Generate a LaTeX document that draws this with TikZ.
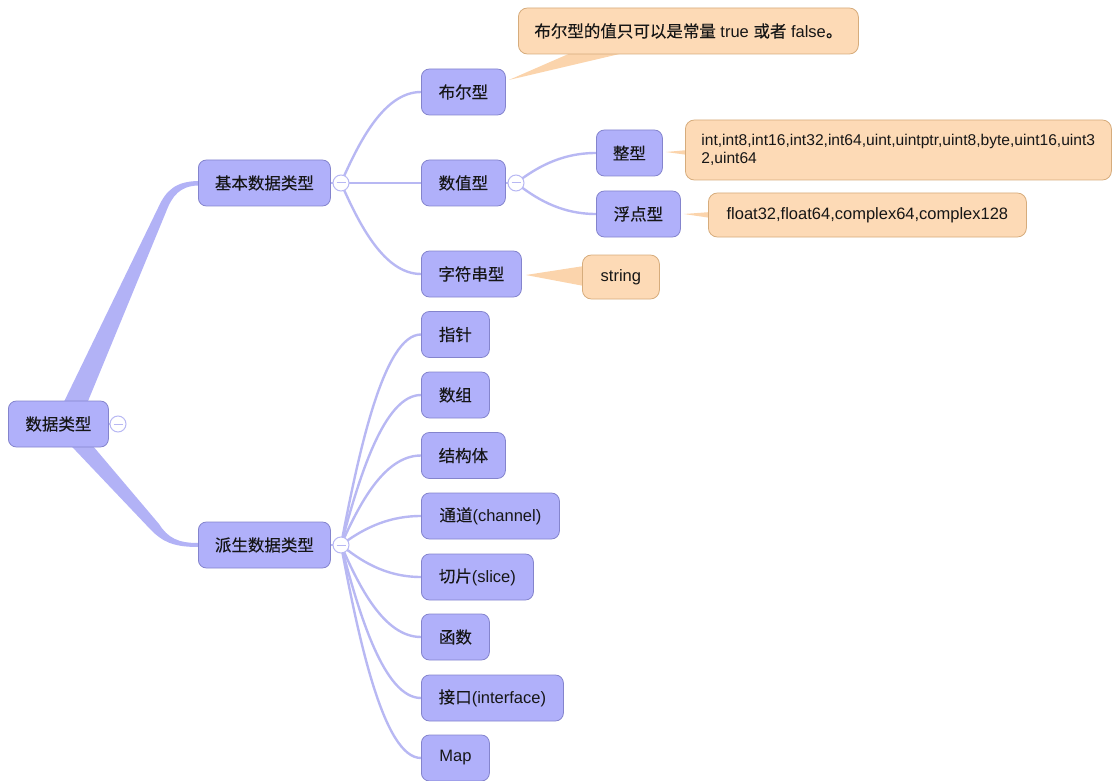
\documentclass[tikz,border=0pt]{standalone}
\usepackage{fontspec}
\setmainfont{Liberation Sans}
\newfontfamily\cjkf{Noto Sans CJK SC}[FakeBold=0.15]
\newcommand{\zhx}[1]{{\cjkf #1}}
\usetikzlibrary{calc,backgrounds}
\definecolor{nodefill}{RGB}{176,176,250}
\definecolor{nodedraw}{RGB}{132,132,205}
\definecolor{linec}{RGB}{184,184,243}
\definecolor{bandc}{RGB}{178,178,246}
\definecolor{notefill}{RGB}{253,218,182}
\definecolor{notedraw}{RGB}{214,172,124}
\definecolor{wedgec}{RGB}{251,212,172}
\definecolor{textc}{RGB}{22,22,22}
\tikzset{
  topic/.style={draw=nodedraw, fill=nodefill, rounded corners=8pt, line width=0.8pt,
    minimum height=46pt, inner sep=0pt, anchor=west, text=textc,
    font=\fontsize{16.5}{19}\selectfont},
  note/.style={draw=notedraw, fill=notefill, rounded corners=9pt, line width=0.8pt,
    inner sep=0pt, anchor=west, text=textc, font=\fontsize{16.5}{19}\selectfont},
  branch/.style={draw=linec, line width=2.4pt},
  fold/.style={circle, draw=linec, fill=white, line width=1pt, minimum size=16pt, inner sep=0pt,
    path picture={\draw[linec, line width=1pt]
      ([xshift=-4.5pt]path picture bounding box.center) -- ([xshift=4.5pt]path picture bounding box.center);}},
  wedge/.style={fill=wedgec, draw=none}
}
\newcommand{\twig}[2]{%
  \draw[branch] let \p1=(#1.center), \p2=(#2.west) in
    (\p1) .. controls ({\x1+18pt}, {\y1+0.45*(\y2-(\y1))}) and ({\x1+43pt}, \y2) .. (\p2);}
\begin{document}
\begin{tikzpicture}[x=1pt, y=-1pt]
\useasboundingbox (0,0) rectangle (1120,781);

% main topics
\node[topic, minimum width=100pt] (root) at (8,424) {\zhx{数据类型}};
\node[topic, minimum width=132pt] (basic) at (198,183) {\zhx{基本数据类型}};
\node[topic, minimum width=132pt] (derived) at (198,545) {\zhx{派生数据类型}};

% basic children
\node[topic, minimum width=84pt] (bool) at (421,92) {\zhx{布尔型}};
\node[topic, minimum width=84pt] (num) at (421,183) {\zhx{数值型}};
\node[topic, minimum width=100pt] (str) at (421,274) {\zhx{字符串型}};
\node[topic, minimum width=66pt] (int) at (596,153) {\zhx{整型}};
\node[topic, minimum width=84pt] (flt) at (596,214) {\zhx{浮点型}};

% derived children
\node[topic, minimum width=68pt] (d1) at (421,334.5) {\zhx{指针}};
\node[topic, minimum width=68pt] (d2) at (421,395) {\zhx{数组}};
\node[topic, minimum width=84pt] (d3) at (421,455.5) {\zhx{结构体}};
\node[topic, minimum width=138pt] (d4) at (421,516) {\zhx{通道}(channel)};
\node[topic, minimum width=112pt] (d5) at (421,577) {\zhx{切片}(slice)};
\node[topic, minimum width=68pt] (d6) at (421,637) {\zhx{函数}};
\node[topic, minimum width=142pt] (d7) at (421,698) {\zhx{接口}(interface)};
\node[topic, minimum width=68pt] (d8) at (421,758) {Map};

% notes
\node[note, minimum width=340pt, minimum height=46pt] (nbool) at (518,31)
  {\zhx{布尔型的值只可以是常量} true \zhx{或者} false\zhx{。}};
\node[note, minimum height=60pt, text width=394pt, inner xsep=16pt, align=left,
  font=\fontsize{15.6}{18}\selectfont] (nint) at (685,150)
  {int,int8,int16,int32,int64,uint,uintptr,uint8,byte,uint16,uint3\\2,uint64};
\node[note, minimum width=318pt, minimum height=44pt] (nflt) at (708,215)
  {float32,float64,complex64,complex128};
\node[note, minimum width=77pt, minimum height=44pt] (nstr) at (582,277) {string};

% fold markers
\node[fold] (f0) at (118,424) {};
\node[fold] (f1) at (341,183) {};
\node[fold] (f2) at (341,545) {};
\node[fold] (f3) at (516,183) {};

\begin{scope}[on background layer]
  % thick tapered branches from the root
  \fill[bandc] ($(root.center)+(4,-19)$) -- (158,208)
    .. controls (166,190) and (176,181.5) .. ($(basic.west)+(0,-2)$)
    -- ($(basic.west)+(0,2.5)$)
    .. controls (180,186) and (172,196) .. (166,212)
    -- ($(root.center)+(28,-19)$) -- cycle;
  \fill[bandc] ($(root.center)+(10,19)$) -- (151,530)
    .. controls (162,541) and (172,547) .. ($(derived.west)+(0,2)$)
    -- ($(derived.west)+(0,-2)$)
    .. controls (178,543) and (168,538) .. (159,524)
    -- ($(root.center)+(32,19)$) -- cycle;
  % stubs to fold markers
  \draw[branch] (root.east) -- (f0.center);
  \draw[branch] (basic.east) -- (f1.center);
  \draw[branch] (derived.east) -- (f2.center);
  \draw[branch] (num.east) -- (f3.center);
  % basic children
  \twig{f1}{bool}
  \draw[branch] (f1.center) -- (num.west);
  \twig{f1}{str}
  \twig{f3}{int}
  \twig{f3}{flt}
  % derived children
  \twig{f2}{d1}
  \twig{f2}{d2}
  \twig{f2}{d3}
  \twig{f2}{d4}
  \twig{f2}{d5}
  \twig{f2}{d6}
  \twig{f2}{d7}
  \twig{f2}{d8}
  % callout wedges
  \fill[wedgec] ($(bool.east)+(3,-12)$) -- (573,52) -- (628,52) -- cycle;
  \fill[wedgec] ($(str.east)+(4,1)$) -- ($(nstr.west)+(2,-11)$) -- ($(nstr.west)+(2,9)$) -- cycle;
  \fill[wedgec] ($(int.east)+(3,-1)$) -- ($(nint.west)+(3,0)$) -- ($(nint.west)+(3,5)$) -- cycle;
  \fill[wedgec] ($(flt.east)+(3,0)$) -- ($(nflt.west)+(3,-3)$) -- ($(nflt.west)+(3,3)$) -- cycle;
\end{scope}
\end{tikzpicture}
\end{document}
